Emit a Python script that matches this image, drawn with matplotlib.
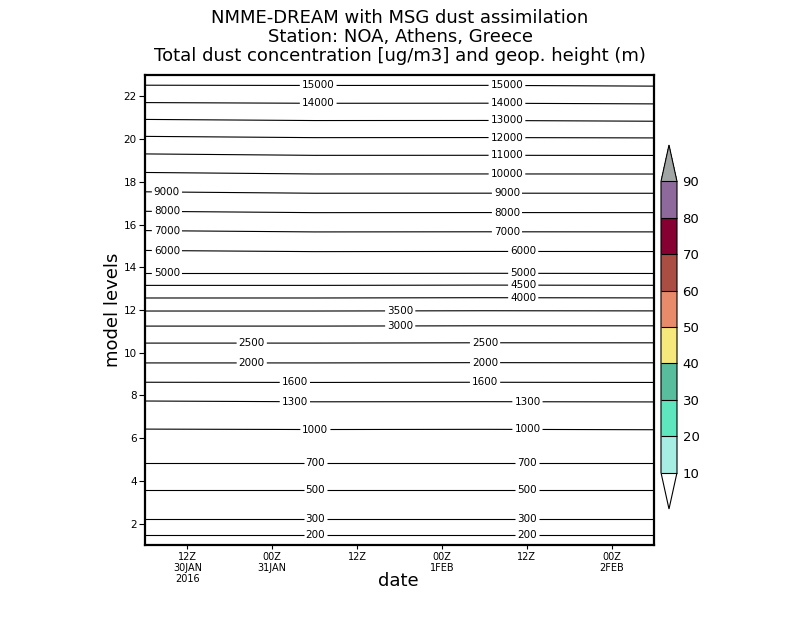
import numpy as np
import matplotlib
matplotlib.use("Agg")
import matplotlib.pyplot as plt
import matplotlib as mpl

# --- data ---
model_levels = np.arange(1, 24)
hours = [6, 30, 54, 78]  # hours since 00Z 30JAN2016

# geopotential height (m) at each model level, one profile per time
z_30jan06 = [140, 268, 410, 563, 731, 915, 1115, 1365, 1745, 2233, 2825, 3534,
             4363, 5262, 6200, 7315, 8420, 9510, 10630, 11840, 13100, 14370, 15576]
z_31jan06 = [140, 268, 410, 563, 731, 915, 1125, 1374, 1745, 2233, 2825, 3534,
             4363, 5262, 6270, 7385, 8489, 9587, 10712, 11915, 13165, 14400, 15576]
z_01feb06 = [140, 268, 410, 563, 731, 915, 1120, 1374, 1740, 2225, 2815, 3525,
             4350, 5255, 6260, 7380, 8485, 9585, 10710, 11910, 13160, 14395, 15570]
z_02feb06 = [140, 268, 410, 563, 731, 915, 1130, 1374, 1745, 2228, 2815, 3530,
             4360, 5262, 6265, 7385, 8489, 9590, 10715, 11930, 13210, 14430, 15620]

height_levels = [200, 300, 500, 700, 1000, 1300, 1600, 2000, 2500, 3000, 3500,
                 4000, 4500, 5000, 6000, 7000, 8000, 9000, 10000, 11000, 12000,
                 13000, 14000, 15000]

# where the contour labels sit (hours)
label_hours = {
    15000: [30.5, 57.2], 14000: [30.5, 57.2], 13000: [57.2], 12000: [57.2],
    11000: [57.2], 10000: [57.2], 9000: [9.1, 57.2], 8000: [9.1, 57.2],
    7000: [9.1, 57.2], 6000: [9.1, 59.5], 5000: [9.1, 59.5], 4500: [59.5],
    4000: [59.5], 3500: [42.1], 3000: [42.1], 2500: [21.1, 54.1],
    2000: [21.1, 54.1], 1600: [27.2, 54.1], 1300: [27.2, 60.1],
    1000: [30.1, 60.1], 700: [30.1, 60.0], 500: [30.1, 60.0],
    300: [30.1, 60.0], 200: [30.1, 60.0],
}

xtick_hours = [12, 24, 36, 48, 60, 72]
xtick_labels = ["12Z\n30JAN\n2016", "00Z\n31JAN", "12Z", "00Z\n1FEB", "12Z", "00Z\n2FEB"]

dust_bounds = [10, 20, 30, 40, 50, 60, 70, 80, 90]
dust_colors = ["#a6ede3", "#5ee6be", "#57bd9c", "#f7e87b", "#e88b6b",
               "#aa4d43", "#860032", "#8e6a9c"]

# --- figure ---
fig = plt.figure(figsize=(8, 6.18), dpi=100)
W, H = 800, 618
ax = fig.add_axes([145 / W, 1 - 545 / H, 509 / W, 470 / H])

Z = np.array([z_30jan06, z_31jan06, z_01feb06, z_02feb06]).T
cs = ax.contour(hours, model_levels, Z, levels=height_levels,
                colors="black", linewidths=0.8)

manual = []
for lev, xs in label_hours.items():
    y = np.interp(lev, z_31jan06, model_levels)
    for x in xs:
        manual.append((x, y))
ax.clabel(cs, fmt="%d", fontsize=7.5, inline=True, inline_spacing=2, manual=manual)

ax.set_xlim(6, 78)
ax.set_ylim(1, 23)
ax.set_yticks(range(2, 23, 2))
ax.set_xticks(xtick_hours)
ax.set_xticklabels(xtick_labels, fontsize=7, linespacing=1.1)
ax.tick_params(axis="y", labelsize=7.5, length=4, width=0.8, pad=2)
ax.tick_params(axis="x", length=3, width=0.8, pad=2)
for s in ax.spines.values():
    s.set_linewidth(1.6)

ax.set_ylabel("model levels", fontsize=13)
ax.yaxis.set_label_coords(-0.045, 0.5)
ax.set_xlabel("date", fontsize=13)
ax.xaxis.set_label_coords(0.497, -0.058)

# titles
fig.text(0.5, 1 - 18 / H, "NMME-DREAM with MSG dust assimilation",
         ha="center", va="center", fontsize=13)
fig.text(0.5, 1 - 37 / H, "Station: NOA, Athens, Greece",
         ha="center", va="center", fontsize=13)
fig.text(0.5, 1 - 56 / H, "Total dust concentration [ug/m3] and geop. height (m)",
         ha="center", va="center", fontsize=13)

# colorbar (axes spans the triangles too)
cmap = mpl.colors.ListedColormap(dust_colors)
cmap.set_over("#a1a6a4")
cmap.set_under("white")
norm = mpl.colors.BoundaryNorm(dust_bounds, cmap.N)
cax = fig.add_axes([661 / W, 1 - 509 / H, 16 / W, 364 / H])
cb = fig.colorbar(mpl.cm.ScalarMappable(norm=norm, cmap=cmap), cax=cax,
                  extend="both", extendfrac=0.125, drawedges=True,
                  ticks=dust_bounds)
cb.outline.set_linewidth(0.8)
cb.dividers.set_linewidth(0.8)
cax.tick_params(length=0, labelsize=9.5, pad=4)

fig.savefig("out.png", dpi=100)
